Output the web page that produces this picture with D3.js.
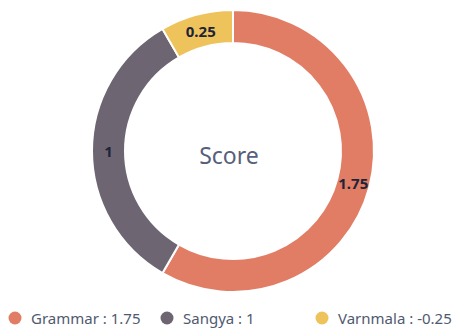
<!DOCTYPE html>
<html>
<head>
<meta charset="utf-8">
<script src="https://cdn.jsdelivr.net/npm/d3@7"></script>
<style>
  html, body { margin: 0; padding: 0; background: #fff; }
  svg { display: block; }
</style>
</head>
<body>
<svg id="chart" width="456" height="331"></svg>
<script>
// Score breakdown by subject
const categories = ["Grammar", "Sangya", "Varnmala"];
const values = [1.75, 1, 0.25];
const legendValues = ["1.75", "1", "-0.25"];
const colors = ["#E27D65", "#6E6573", "#EEC35B"];

const svg = d3.select("#chart");
const cx = 233, cy = 151;
const outerR = 141, innerR = 108;

const data = categories.map((c, i) => ({ name: c, value: values[i], color: colors[i], legend: legendValues[i] }));

const pie = d3.pie().value(d => d.value).sort(null);
const arc = d3.arc().innerRadius(innerR).outerRadius(outerR);

const g = svg.append("g").attr("transform", `translate(${cx},${cy})`);

const arcs = pie(data);

g.selectAll("path.slice")
  .data(arcs)
  .join("path")
  .attr("class", "slice")
  .attr("d", arc)
  .attr("fill", d => d.data.color)
  .attr("stroke", "#fff")
  .attr("stroke-width", 2);

g.selectAll("text.val")
  .data(arcs)
  .join("text")
  .attr("class", "val")
  .attr("transform", d => `translate(${arc.centroid(d)})`)
  .attr("text-anchor", "middle")
  .attr("dominant-baseline", "central")
  .attr("font-family", "'Noto Sans', 'Open Sans', sans-serif")
  .attr("font-weight", "bold")
  .attr("font-size", 15)
  .attr("fill", "#1d2438")
  .text(d => d.data.value);

g.append("text")
  .attr("text-anchor", "middle")
  .attr("dominant-baseline", "central")
  .attr("x", -4)
  .attr("y", 4)
  .attr("font-family", "'Noto Sans', 'Open Sans', sans-serif")
  .attr("font-size", 23)
  .attr("fill", "#56607a")
  .text("Score");

// Legend
const legendX = [8, 160, 315];
const legend = svg.append("g").attr("transform", "translate(0,318)");
const items = legend.selectAll("g.item")
  .data(data)
  .join("g")
  .attr("class", "item")
  .attr("transform", (d, i) => `translate(${legendX[i]},0)`);

items.append("circle")
  .attr("cx", 7)
  .attr("cy", 0)
  .attr("r", 6.5)
  .attr("fill", d => d.color);

items.append("text")
  .attr("x", 23)
  .attr("y", 0)
  .attr("dominant-baseline", "central")
  .attr("font-family", "'Noto Sans', 'Open Sans', sans-serif")
  .attr("font-size", 15)
  .attr("fill", "#4f5a70")
  .text(d => `${d.name} : ${d.legend}`);
</script>
</body>
</html>
